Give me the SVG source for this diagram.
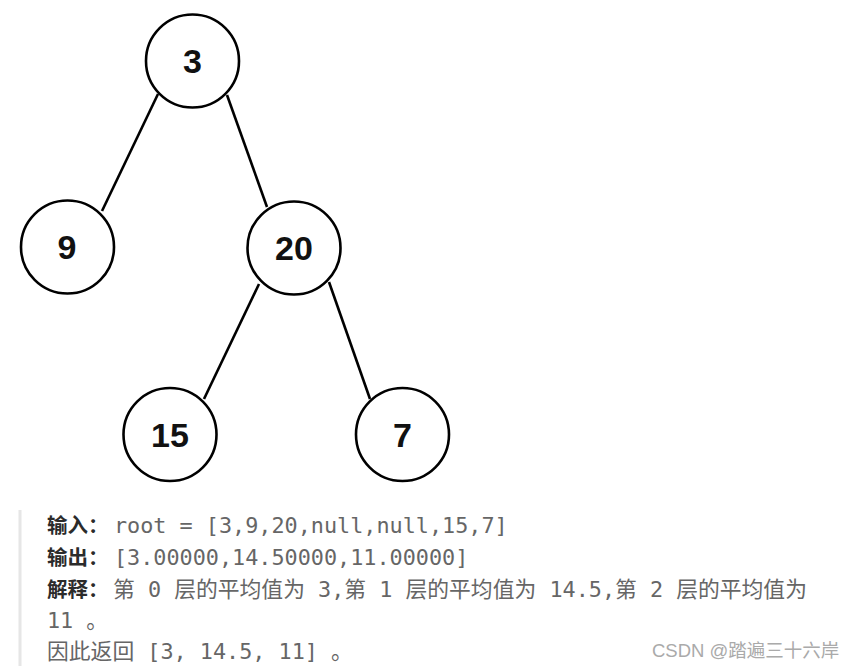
<svg xmlns="http://www.w3.org/2000/svg" width="856" height="669" viewBox="0 0 856 669">
<style>
.node circle{fill:#fff;stroke:#000;stroke-width:2.6}
.node text{font-family:"Liberation Sans",Arial,sans-serif;font-weight:bold;font-size:34px;fill:#111;text-anchor:middle}
.edge{stroke:#000;stroke-width:2.6;fill:none}
.lbl{font-family:"Noto Sans CJK SC",sans-serif;font-weight:bold;font-size:20.5px;fill:#2b2b2b}
.txt{font-family:"DejaVu Sans Mono","Noto Sans CJK SC",monospace;font-size:21.8px;fill:#666;white-space:pre}
.wm{font-family:"Liberation Sans","Noto Sans CJK SC",sans-serif;font-size:18.5px;fill:#aaa}
</style>
<rect width="856" height="669" fill="#fff"/>
<g id="connectors">
<line class="edge" x1="158" y1="94" x2="102" y2="211"/>
<line class="edge" x1="227" y1="95" x2="267" y2="207"/>
<line class="edge" x1="259" y1="284" x2="204" y2="399"/>
<line class="edge" x1="329" y1="282" x2="370" y2="399"/>
</g>
<g id="node-3" class="node"><circle cx="192.5" cy="61" r="46.5"/><text x="192.5" y="73">3</text></g>
<g id="node-9" class="node"><circle cx="67.5" cy="247" r="46.5"/><text x="67" y="259">9</text></g>
<g id="node-20" class="node"><circle cx="294" cy="248" r="46.5"/><text x="294" y="260">20</text></g>
<g id="node-15" class="node"><circle cx="170" cy="434.5" r="46.5"/><text x="170" y="447">15</text></g>
<g id="node-7" class="node"><circle cx="402.5" cy="434.5" r="46.5"/><text x="402.5" y="447">7</text></g>
<g id="text-block">
<rect x="18.5" y="510" width="3" height="156" fill="#e6e6e6"/>
<text class="lbl" x="47" y="533">输入：</text>
<text class="txt" x="114" y="533">root = [3,9,20,null,null,15,7]</text>
<text class="lbl" x="47" y="565">输出：</text>
<text class="txt" x="114" y="565">[3.00000,14.50000,11.00000]</text>
<text class="lbl" x="47" y="596.5">解释：</text>
<text class="txt" x="113" y="596.5">第 0 层的平均值为 3,第 1 层的平均值为 14.5,第 2 层的平均值为</text>
<text class="txt" x="47" y="627.5">11 。</text>
<text class="txt" x="47" y="658.5">因此返回 [3, 14.5, 11] 。</text>
<text class="wm" x="652" y="657">CSDN @踏遍三十六岸</text>
</g>
</svg>
